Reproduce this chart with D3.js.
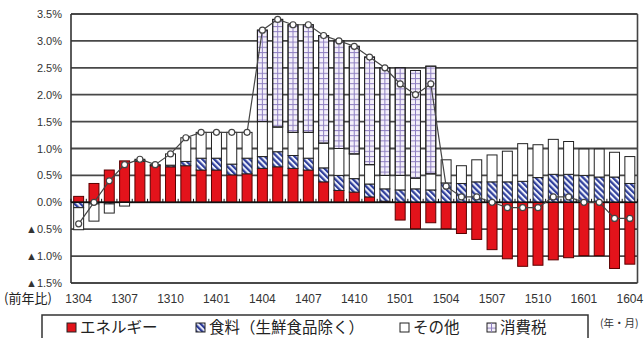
<!DOCTYPE html>
<html>
<head>
<meta charset="utf-8">
<script src="https://cdn.jsdelivr.net/npm/d3@7"></script>
<style>
  html, body { margin: 0; padding: 0; background: #fff; }
  svg { display: block; }
</style>
</head>
<body>
<svg id="chart" width="644" height="338"></svg>
<script>
// Core CPI (ex fresh food), y/y %, and contributions by component
const months = ["1304","1305","1306","1307","1308","1309","1310","1311","1312",
  "1401","1402","1403","1404","1405","1406","1407","1408","1409","1410","1411","1412",
  "1501","1502","1503","1504","1505","1506","1507","1508","1509","1510","1511","1512",
  "1601","1602","1603","1604"];

const energy = [0.11, 0.35, 0.60, 0.77, 0.76, 0.68, 0.66, 0.68, 0.60,
  0.60, 0.51, 0.53, 0.63, 0.66, 0.63, 0.60, 0.38, 0.22, 0.19, 0.10, 0.02,
  -0.33, -0.49, -0.38, -0.49, -0.58, -0.69, -0.88, -1.05, -1.19, -1.17, -1.07, -1.03,
  -0.99, -0.99, -1.23, -1.15];

const food = [-0.10, -0.03, -0.03, 0.00, 0.02, 0.00, 0.03, 0.08, 0.22,
  0.22, 0.20, 0.29, 0.22, 0.28, 0.24, 0.22, 0.26, 0.28, 0.25, 0.24, 0.23,
  0.23, 0.25, 0.23, 0.36, 0.35, 0.38, 0.38, 0.38, 0.39, 0.46, 0.52, 0.52,
  0.50, 0.47, 0.47, 0.35];

const other = [-0.41, -0.32, -0.17, -0.07, 0.02, 0.02, 0.21, 0.44, 0.48,
  0.48, 0.59, 0.48, 0.65, 0.46, 0.43, 0.48, 0.46, 0.50, 0.46, 0.36, 0.25,
  0.27, 0.20, 0.30, 0.43, 0.33, 0.41, 0.50, 0.57, 0.70, 0.61, 0.65, 0.61,
  0.49, 0.52, 0.46, 0.50];

const tax = [0, 0, 0, 0, 0, 0, 0, 0, 0,
  0, 0, 0, 1.70, 2.00, 2.00, 2.00, 2.00, 2.00, 2.00, 2.00, 2.00,
  2.00, 2.00, 2.00, 0, 0, 0, 0, 0, 0, 0, 0, 0,
  0, 0, 0, 0];

const total = [-0.4, 0.0, 0.4, 0.7, 0.8, 0.7, 0.9, 1.2, 1.3,
  1.3, 1.3, 1.3, 3.2, 3.4, 3.3, 3.3, 3.1, 3.0, 2.9, 2.7, 2.5,
  2.2, 2.0, 2.2, 0.3, 0.1, 0.1, 0.0, -0.1, -0.1, -0.1, 0.1, 0.1,
  0.0, 0.0, -0.3, -0.3];

const yTicks = [3.5, 3.0, 2.5, 2.0, 1.5, 1.0, 0.5, 0.0, -0.5, -1.0, -1.5];
const xTickMonths = ["1304","1307","1310","1401","1404","1407","1410","1501","1504","1507","1510","1601","1604"];
const seriesKeys = ["energy", "food", "other", "tax"];
const seriesNames = ["エネルギー", "食料（生鮮食品除く）", "その他", "消費税"];

const rows = months.map((m, i) => ({
  month: m, energy: energy[i], food: food[i], other: other[i], tax: tax[i]
}));

const svg = d3.select("#chart");
const plot = { left: 71, right: 637.5, top: 14, bottom: 283 };

const x = d3.scaleBand().domain(months)
  .range([plot.left, plot.right]).paddingInner(0.35).paddingOuter(0.175);
const y = d3.scaleLinear().domain([-1.5, 3.5]).range([plot.bottom, plot.top]);

const numFont = "'Liberation Sans', Arial, sans-serif";
const jpFont = "'Noto Sans CJK JP', sans-serif";

// patterns
const defs = svg.append("defs");
const hatch = defs.append("pattern").attr("id", "foodHatch")
  .attr("patternUnits", "userSpaceOnUse").attr("width", 4.2).attr("height", 4.2)
  .attr("patternTransform", "rotate(-45)");
hatch.append("rect").attr("width", 4.2).attr("height", 4.2).attr("fill", "#eef0fb");
hatch.append("rect").attr("width", 2.2).attr("height", 4.2).attr("fill", "#2f3f9c");

const rowsPat = defs.append("pattern").attr("id", "taxRows")
  .attr("patternUnits", "userSpaceOnUse").attr("width", 4).attr("height", 5.2);
rowsPat.append("rect").attr("width", 4).attr("height", 5.2).attr("fill", "#f4f0fa");
rowsPat.append("rect").attr("width", 4).attr("height", 1).attr("fill", "#8f80c2");

// gridlines
svg.append("g").selectAll("line").data(yTicks).join("line")
  .attr("x1", plot.left).attr("x2", plot.right)
  .attr("y1", d => y(d)).attr("y2", d => y(d))
  .attr("stroke", "#484848").attr("stroke-width", 1.8);

// frame sides
svg.append("line").attr("x1", plot.left).attr("x2", plot.left)
  .attr("y1", plot.top).attr("y2", plot.bottom).attr("stroke", "#333").attr("stroke-width", 1.6);
svg.append("line").attr("x1", plot.right).attr("x2", plot.right)
  .attr("y1", plot.top).attr("y2", plot.bottom).attr("stroke", "#444").attr("stroke-width", 1.6);

// stacked bars (positive and negative parts stacked separately)
const stacked = d3.stack().keys(seriesKeys).offset(d3.stackOffsetDiverging)(rows);
const fills = { energy: "#e3131b", food: "url(#foodHatch)", other: "#ffffff", tax: "url(#taxRows)" };

const layers = svg.append("g").selectAll("g").data(stacked).join("g");
layers.selectAll("rect").data(s => s.map(d => ({ key: s.key, d })))
  .join("rect")
  .filter(o => o.d[1] - o.d[0] !== 0)
  .attr("x", o => x(o.d.data.month))
  .attr("width", x.bandwidth())
  .attr("y", o => y(Math.max(o.d[0], o.d[1])))
  .attr("height", o => Math.abs(y(o.d[0]) - y(o.d[1])))
  .attr("fill", o => fills[o.key])
  .attr("stroke", o => o.key === "energy" ? "#5a0000" : "#222")
  .attr("stroke-width", 1);

// centre rule of the consumption-tax grid
const taxLayer = stacked.find(s => s.key === "tax");
svg.append("g").selectAll("line").data(taxLayer.filter(d => d[1] !== d[0])).join("line")
  .attr("x1", d => x(d.data.month) + x.bandwidth() / 2)
  .attr("x2", d => x(d.data.month) + x.bandwidth() / 2)
  .attr("y1", d => y(d[1])).attr("y2", d => y(d[0]))
  .attr("stroke", "#8f80c2").attr("stroke-width", 1);
svg.append("g").selectAll("rect").data(taxLayer.filter(d => d[1] !== d[0])).join("rect")
  .attr("x", d => x(d.data.month)).attr("width", x.bandwidth())
  .attr("y", d => y(d[1])).attr("height", d => y(d[0]) - y(d[1]))
  .attr("fill", "none").attr("stroke", "#222").attr("stroke-width", 1);

// zero axis with category ticks
const zeroY = y(0);
svg.append("line").attr("x1", plot.left).attr("x2", plot.right)
  .attr("y1", zeroY).attr("y2", zeroY).attr("stroke", "#111").attr("stroke-width", 1.6);
const half = x.step() * x.paddingInner() / 2;
const tickXs = months.map(m => x(m) - half).concat([x(months[months.length - 1]) + x.bandwidth() + half]);
svg.append("g").selectAll("line").data(tickXs).join("line")
  .attr("x1", d => d).attr("x2", d => d)
  .attr("y1", zeroY).attr("y2", zeroY - 3.5)
  .attr("stroke", "#111").attr("stroke-width", 1);

// total line with markers
const cx = m => x(m) + x.bandwidth() / 2;
const line = d3.line().x((d, i) => cx(months[i])).y(d => y(d));
svg.append("path").datum(total).attr("d", line)
  .attr("fill", "none").attr("stroke", "#444").attr("stroke-width", 1.2);
svg.append("g").selectAll("circle").data(total).join("circle")
  .attr("cx", (d, i) => cx(months[i])).attr("cy", d => y(d)).attr("r", 3)
  .attr("fill", "#fff").attr("stroke", "#444").attr("stroke-width", 1.2);

// y axis labels
const yAxis = d3.axisLeft(y).tickValues(yTicks)
  .tickFormat(d => (d < 0 ? "▲" : "") + Math.abs(d).toFixed(1) + "%")
  .tickSize(0).tickPadding(9);
const ya = svg.append("g").attr("transform", `translate(${plot.left},0)`).call(yAxis);
ya.select(".domain").remove();
ya.selectAll("text").attr("font-family", numFont).attr("font-size", 11).attr("fill", "#333");

// x axis labels
const xAxis = d3.axisBottom(x).tickValues(xTickMonths).tickSize(0).tickPadding(11);
const xa = svg.append("g").attr("transform", `translate(0,${plot.bottom})`).call(xAxis);
xa.select(".domain").remove();
xa.selectAll("text").attr("font-family", numFont).attr("font-size", 12).attr("fill", "#333");

svg.append("text").attr("x", 4).attr("y", 303)
  .attr("font-family", jpFont).attr("font-size", 13).attr("fill", "#222")
  .text("(前年比)");
svg.append("text").attr("x", 600).attr("y", 327)
  .attr("font-family", jpFont).attr("font-size", 10.5).attr("fill", "#333")
  .text("(年・月)");

// legend
const lg = svg.append("g");
lg.append("rect").attr("x", 42).attr("y", 315).attr("width", 546).attr("height", 32)
  .attr("fill", "#fff").attr("stroke", "#333").attr("stroke-width", 1.5);
const legendX = [67, 196, 400, 487];
const swatchFill = ["#e3131b", "url(#foodHatch)", "#fff", "url(#taxRows)"];
const items = lg.selectAll("g.item").data(seriesKeys).join("g").attr("class", "item")
  .attr("transform", (d, i) => `translate(${legendX[i]},0)`);
items.append("rect").attr("x", 0).attr("y", 323).attr("width", 9).attr("height", 9)
  .attr("fill", (d, i) => swatchFill[i]).attr("stroke", "#222").attr("stroke-width", 1);
items.filter(d => d === "tax").append("line")
  .attr("x1", 4.5).attr("x2", 4.5).attr("y1", 323).attr("y2", 332)
  .attr("stroke", "#8f80c2");
items.append("text").attr("x", 13).attr("y", 333.3)
  .attr("font-family", jpFont).attr("font-size", 15.5).attr("fill", "#222")
  .text((d, i) => seriesNames[i]);
</script>
</body>
</html>
